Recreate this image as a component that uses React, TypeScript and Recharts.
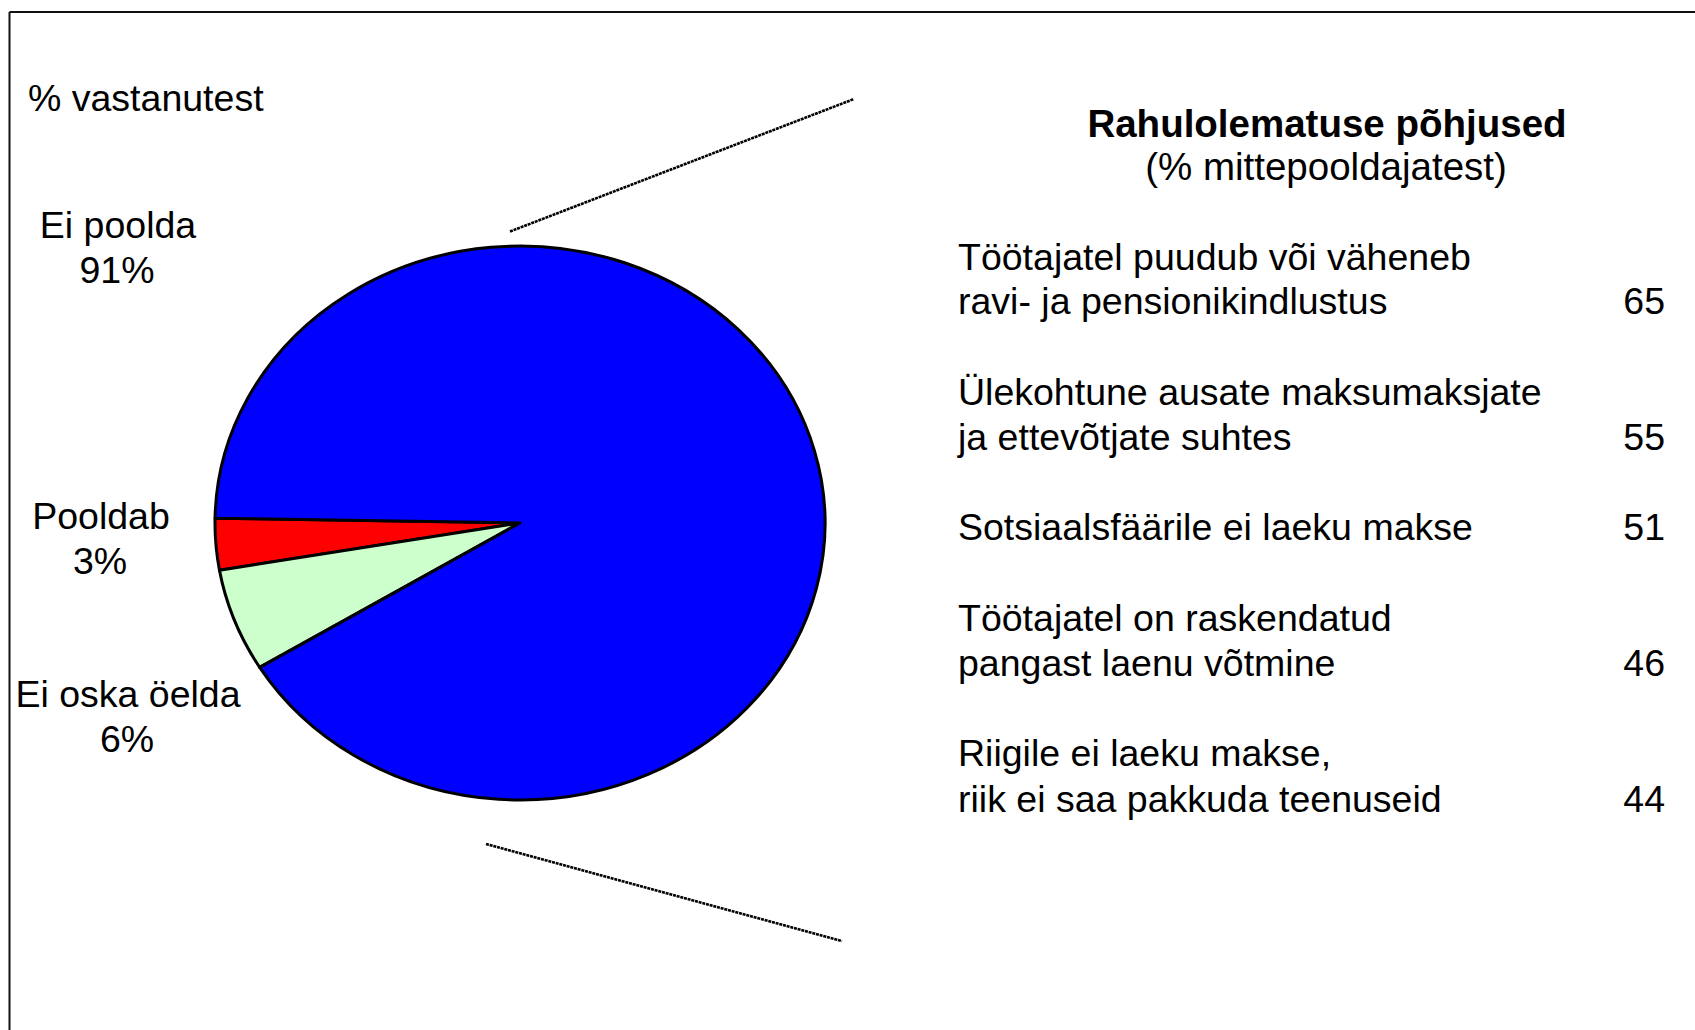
import { PieChart, Pie, Cell } from "recharts";

const W = 1695;
const H = 1030;

// pie: share of respondents
const categories = ["Pooldab", "Ei oska öelda", "Ei poolda"];
const shares = [3, 6, 91];
const sliceColors = ["#FF0000", "#CCFFCC", "#0000FF"];

// right panel: reasons for dissatisfaction
const reasonLines = [
  ["Töötajatel puudub või väheneb", "ravi- ja pensionikindlustus"],
  ["Ülekohtune ausate maksumaksjate", "ja ettevõtjate suhtes"],
  ["Sotsiaalsfäärile ei laeku makse"],
  ["Töötajatel on raskendatud", "pangast laenu võtmine"],
  ["Riigile ei laeku makse,", "riik ei saa pakkuda teenuseid"],
];
const reasonValues = [65, 55, 51, 46, 44];

const panelTitle = "Rahulolematuse põhjused";
const panelSubtitle = "(% mittepooldajatest)";
const unitLabel = "% vastanutest";

// layout (px, full-size picture)
const PIE_CX = 520;
const PIE_CY = 523;
const PIE_R = 305;
const RY_RATIO = 277 / 305;

const sliceLabelPos = [
  { x: 101, y: 529, y2: 574 },
  { x: 128, y: 707, y2: 752 },
  { x: 118, y: 238, y2: 283 },
];
const reasonBaselines = [
  [270, 314],
  [405, 450],
  [540],
  [631, 676],
  [766, 812],
];

const FONT = "'Liberation Sans', Arial, sans-serif";
const FS = 37.5;

// elliptical sector, the pie in the picture is squashed vertically
function EllipseSector(props: any) {
  const { cx, cy, outerRadius, startAngle, endAngle, fill } = props;
  const rx = outerRadius;
  const ry = outerRadius * RY_RATIO;
  const rad = Math.PI / 180;
  const x1 = cx + rx * Math.cos(startAngle * rad);
  const y1 = cy - ry * Math.sin(startAngle * rad);
  const x2 = cx + rx * Math.cos(endAngle * rad);
  const y2 = cy - ry * Math.sin(endAngle * rad);
  const large = Math.abs(endAngle - startAngle) > 180 ? 1 : 0;
  const sweep = endAngle > startAngle ? 0 : 1;
  const d = `M${cx},${cy} L${x1},${y1} A${rx},${ry} 0 ${large} ${sweep} ${x2},${y2} Z`;
  return <path d={d} fill={fill} stroke="#000" strokeWidth={3} strokeLinejoin="round" />;
}

export default function App() {
  const data = categories.map((name, i) => ({ name, value: shares[i] }));

  return (
    <div style={{ position: "absolute", left: 0, top: 0, width: W, height: H, background: "#fff", overflow: "hidden" }}>
      <PieChart width={W} height={H} margin={{ top: 0, right: 0, bottom: 0, left: 0 }}>
        <Pie
          data={data}
          dataKey="value"
          nameKey="name"
          cx={PIE_CX}
          cy={PIE_CY}
          outerRadius={PIE_R}
          startAngle={179}
          endAngle={539}
          stroke="#000"
          strokeWidth={3}
          shape={EllipseSector}
          label={false}
          labelLine={false}
          isAnimationActive={false}
        >
          {data.map((d, i) => (
            <Cell key={d.name} fill={sliceColors[i]} />
          ))}
        </Pie>
      </PieChart>

      <svg
        width={W}
        height={H}
        style={{ position: "absolute", left: 0, top: 0, pointerEvents: "none" }}
        fontFamily={FONT}
      >
        {/* frame */}
        <line x1={9.5} y1={12} x2={W} y2={12} stroke="#111" strokeWidth={2} />
        <line x1={9.5} y1={12} x2={9.5} y2={H} stroke="#111" strokeWidth={2} />

        {/* connector lines */}
        <line x1={510} y1={231.5} x2={854} y2={99} stroke="#000" strokeWidth={2.6} strokeDasharray="3 0.8" />
        <line x1={486} y1={844} x2={842} y2={941} stroke="#000" strokeWidth={2.6} strokeDasharray="3 0.8" />

        <text x={28} y={111} fontSize={FS} fill="#000">{unitLabel}</text>

        {categories.map((name, i) => (
          <g key={name}>
            <text x={sliceLabelPos[i].x} y={sliceLabelPos[i].y} fontSize={FS} textAnchor="middle" fill="#000">
              {name}
            </text>
            <text x={sliceLabelPos[i].x - 1} y={sliceLabelPos[i].y2} fontSize={FS} textAnchor="middle" fill="#000">
              {shares[i]}%
            </text>
          </g>
        ))}

        <text x={1327} y={137} fontSize={38.5} fontWeight="bold" textAnchor="middle" fill="#000">
          {panelTitle}
        </text>
        <text x={1326} y={180} fontSize={38.5} textAnchor="middle" fill="#000">
          {panelSubtitle}
        </text>

        {reasonLines.map((lines, i) => (
          <g key={i}>
            {lines.map((ln, j) => (
              <text key={j} x={958} y={reasonBaselines[i][j]} fontSize={FS} fill="#000">
                {ln}
              </text>
            ))}
            <text x={1665} y={reasonBaselines[i][lines.length - 1]} fontSize={FS} textAnchor="end" fill="#000">
              {reasonValues[i]}
            </text>
          </g>
        ))}
      </svg>
    </div>
  );
}
